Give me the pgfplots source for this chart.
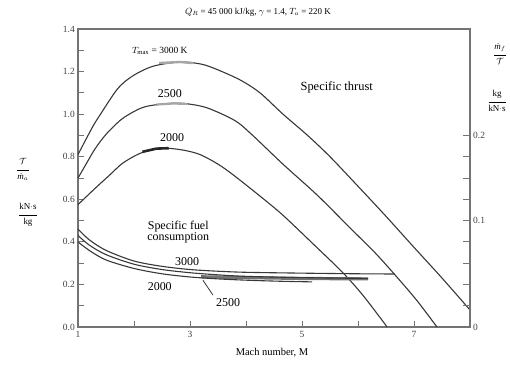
\documentclass[border=0pt]{standalone}
\usepackage{amsmath}
\usepackage{pgfplots}
\pgfplotsset{compat=1.18}
\usepackage{fontspec}
\setmainfont{Liberation Serif}
\definecolor{curve}{gray}{0.22}
\definecolor{frame}{gray}{0.45}
\newcommand{\stackfrac}[2]{{\renewcommand\arraystretch{1.15}\begin{tabular}{@{}c@{}}#1\\[1.5pt]\hline\rule{0pt}{10pt}#2\end{tabular}}}
\begin{document}
\fontsize{9}{10}\selectfont
\begin{tikzpicture}
\useasboundingbox (-78bp,-38bp) rectangle (432bp,327bp);
\begin{axis}[
 at={(0,0)}, anchor=south west, scale only axis, width=392bp, height=298bp,
 xmin=1, xmax=8, ymin=0, ymax=1.4,
 xtick={1,3,5,7}, minor xtick={2,4,6},
 ytick={0,0.2,0.4,0.6,0.8,1.0,1.2,1.4}, minor ytick={0.1,0.3,0.5,0.7,0.9,1.1,1.3},
 tick align=inside, xtick pos=bottom, ytick pos=left,
 major tick length=6bp, minor tick length=6bp,
 yticklabel style={/pgf/number format/.cd,fixed,fixed zerofill,precision=1},
 /pgf/number format/assume math mode=true,
 axis line style={frame, line width=1.1bp},
 every tick/.style={frame, line width=0.9bp},
 ticklabel style={font=\fontsize{9.5}{10}\selectfont, text=black!75},
 xticklabel style={yshift=-1bp},
 clip=false,
]
% specific thrust
\addplot[curve, line width=1.1bp, smooth] coordinates {
(1,0.81) (1.25,0.935) (1.39,0.995) (1.71,1.12) (1.98,1.18) (2.34,1.225) (2.82,1.245) (3.2,1.235) (3.48,1.21) (3.9,1.16) (4.25,1.10) (4.66,1.00) (5.1,0.90) (5.5,0.80) (6.04,0.65) (6.5,0.52) (6.98,0.38) (7.5,0.23) (8,0.08)};
\addplot[curve, line width=1.1bp, smooth] coordinates {
(1,0.70) (1.1,0.745) (1.3,0.835) (1.5,0.905) (1.75,0.97) (1.95,1.005) (2.2,1.035) (2.6,1.05) (2.9,1.05) (3.3,1.03) (3.8,0.97) (4.1,0.905) (4.66,0.765) (5.27,0.62) (5.86,0.465) (6.3,0.35) (6.66,0.245) (7.05,0.125) (7.41,0)};
\addplot[curve, line width=1.1bp, smooth] coordinates {
(1,0.575) (1.3,0.65) (1.57,0.715) (1.8,0.77) (2.1,0.815) (2.4,0.838) (2.6,0.84) (2.9,0.83) (3.18,0.81) (3.5,0.765) (3.77,0.715) (4.25,0.615) (4.66,0.525) (5.2,0.39) (5.73,0.255) (6.1,0.145) (6.52,0)};
\addplot[black!85, line width=2.6bp] coordinates {(2.15,0.823) (2.4,0.838) (2.62,0.84)};
\addplot[black!35, line width=2.4bp] coordinates {(2.45,1.24) (2.82,1.245) (3.05,1.24)};
\addplot[black!35, line width=2.2bp] coordinates {(2.4,1.045) (2.7,1.05) (2.95,1.048)};
% specific fuel consumption
\addplot[black!55, line width=3.2bp] coordinates {(3.2,0.236) (4,0.232) (5,0.228) (6.18,0.226)};
\addplot[curve, line width=1.1bp, smooth] coordinates {
(1,0.46) (1.2,0.41) (1.5,0.36) (2,0.31) (2.5,0.285) (3,0.27) (3.5,0.262) (4,0.257) (5,0.253) (6,0.25) (6.66,0.249)};
\addplot[curve, line width=1.1bp, smooth] coordinates {
(1,0.43) (1.2,0.385) (1.5,0.34) (2,0.295) (2.5,0.27) (3,0.255) (3.5,0.245) (4,0.238) (5,0.232) (6.18,0.228)};
\addplot[curve, line width=1.1bp, smooth] coordinates {
(1,0.40) (1.2,0.36) (1.5,0.315) (2,0.275) (2.5,0.25) (3,0.235) (3.5,0.226) (4,0.22) (4.6,0.215) (5.18,0.212)};
\draw[curve, line width=0.8bp] (axis cs:3.23,0.22) -- (axis cs:3.41,0.15);
% annotations
\node[font=\fontsize{9.5}{10}\selectfont] at (axis cs:2.46,1.295) {$T_{\max}$ = 3000 K};
\node[font=\fontsize{12}{13}\selectfont] at (axis cs:2.64,1.096) {2500};
\node[font=\fontsize{12}{13}\selectfont] at (axis cs:2.68,0.89) {2000};
\node[font=\fontsize{12.5}{13}\selectfont] at (axis cs:5.62,1.126) {Specific thrust};
\node[align=center, font=\fontsize{12}{12}\selectfont] at (axis cs:2.79,0.444) {Specific fuel\\[-1pt]consumption};
\node[font=\fontsize{12}{13}\selectfont] at (axis cs:2.95,0.309) {3000};
\node[font=\fontsize{12}{13}\selectfont] at (axis cs:2.46,0.19) {2000};
\node[font=\fontsize{12}{13}\selectfont] at (axis cs:3.68,0.117) {2500};
\end{axis}
\begin{axis}[
 at={(0,0)}, anchor=south west, scale only axis, width=392bp, height=298bp,
 xmin=1, xmax=8, ymin=0, ymax=1.4,
 axis x line=none, axis y line*=right,
 ytick={0,0.5,0.9}, yticklabels={0,0.1,0.2},
 minor ytick={0.1,0.2,0.3,0.4,0.6,0.7,0.8},
 tick align=inside,
 major tick length=7bp, minor tick length=7bp,
 /pgf/number format/assume math mode=true,
 axis line style={frame, line width=1.1bp},
 every tick/.style={frame, line width=0.9bp},
 ticklabel style={font=\fontsize{9.5}{10}\selectfont, text=black!75},
]
\end{axis}
\node at (180bp,315bp) {$Q_R$ = 45 000 kJ/kg, $\gamma$ = 1.4, $T_a$ = 220 K};
\node[font=\fontsize{10.5}{11}\selectfont] at (194bp,-26bp) {Mach number, M};
\node at (-55bp,157bp) {\stackfrac{$\mathcal{T}$}{\textit{ṁ}$_a$}};
\node at (-50bp,112bp) {\stackfrac{kN$\cdot$s}{kg}};
\node at (422bp,272bp) {\stackfrac{\textit{ṁ}$_f$}{$\mathcal{T}$}};
\node at (419bp,225bp) {\stackfrac{kg}{kN$\cdot$s}};
\end{tikzpicture}
\end{document}
